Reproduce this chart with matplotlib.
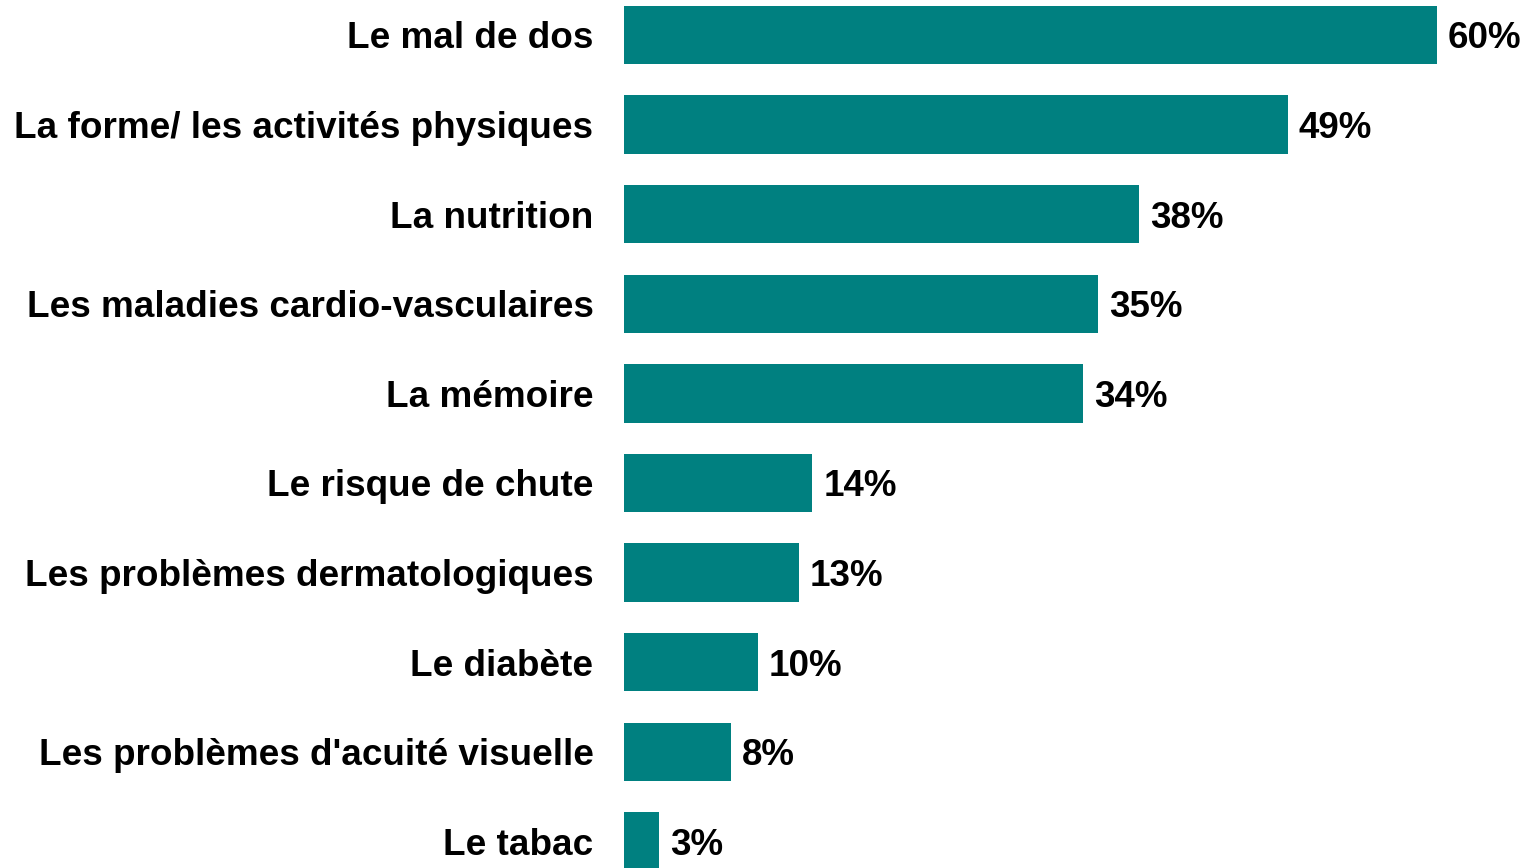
import matplotlib.pyplot as plt

# Données
categories = ["Le mal de dos", "La forme/ les activités physiques", "La nutrition",
              "Les maladies cardio-vasculaires", "La mémoire", "Le risque de chute",
              "Les problèmes dermatologiques", "Le diabète",
              "Les problèmes d'acuité visuelle", "Le tabac"]
valeurs = [60, 49, 38, 35, 33.9, 13.9, 12.9, 9.9, 7.9, 2.6]
etiquettes = ["60%", "49%", "38%", "35%", "34%", "14%", "13%", "10%", "8%", "3%"]

plt.rcParams['font.family'] = ['Liberation Sans', 'DejaVu Sans']

fig = plt.figure(figsize=(15.34, 8.68), dpi=100)
ax = fig.add_axes([624 / 1534, 0, 1 - 624 / 1534, 1])

pos = list(range(len(categories)))
ax.barh(pos, valeurs, height=0.65, color='#008080')

# Etiquettes des valeurs
for y, v, t in zip(pos, valeurs, etiquettes):
    ax.text(v + 0.8, y, t, va='center_baseline', ha='left', fontsize=26.5, fontweight='bold')

ax.set_yticks(pos)
ax.set_yticklabels(categories, fontsize=26.6, fontweight='bold')
ax.tick_params(axis='y', length=0, pad=22)
ax.set_xticks([])

ax.set_xlim(0, (1534 - 624) / 13.55)
ax.set_ylim((868 - 35) / 89.6, -35 / 89.6)

for s in ax.spines.values():
    s.set_visible(False)

fig.savefig('out.png', dpi=100)
